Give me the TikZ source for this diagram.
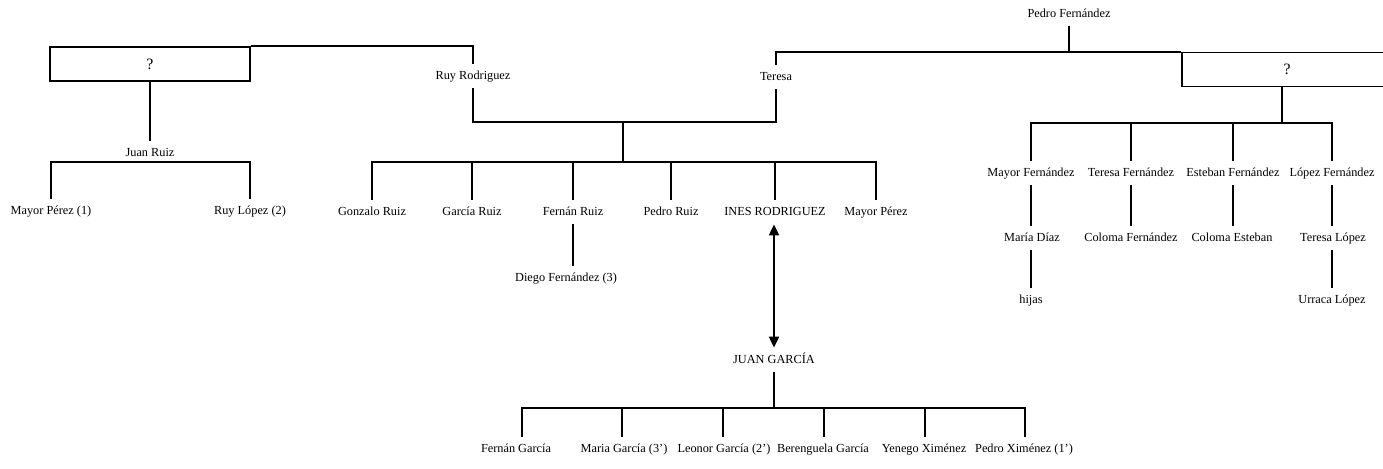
\documentclass[tikz,border=0pt]{standalone}
\usepackage{fontspec}
\setmainfont{Liberation Serif}
\usetikzlibrary{arrows.meta}
\begin{document}
\begin{tikzpicture}[x=0.02cm,y=-0.02cm,
  lab/.style={font=\fontsize{7}{8}\selectfont, inner xsep=1pt, inner ysep=3.6pt, text height=5pt, text depth=1.5pt},
  ln/.style={line width=1.1pt},
  qbox/.style={draw, line width=1.1pt, font=\fontsize{9}{10}\selectfont, inner sep=0pt, minimum height=0.68cm},
  >={Triangle[length=0.22cm,width=0.2cm]}]
\useasboundingbox (0,0) rectangle (1383,468);
% boxes with unknown spouses
\node[qbox, minimum width=4cm] (lbox) at (150,64) {?};
\node[qbox, minimum width=4.2cm] (rbox) at (1287,69.5) {?};
% top generation
\node[lab] (ruy) at (473,76) {Ruy Rodriguez};
\node[lab] (teresa) at (776,77) {Teresa};
\node[lab] (pedro) at (1069,14) {Pedro Fernández};
\coordinate (m2) at (1069,52);
\draw[ln] (lbox.north east) -| (ruy.north);
\draw[ln] (teresa.north) |- (rbox.north west);
\draw[ln] (pedro.south) -- (m2);
% left branch
\node[lab] (juanruiz) at (150,153) {Juan Ruiz};
\node[lab] (mayorp1) at (51,211) {Mayor Pérez (1)};
\node[lab] (ruylopez) at (250,211) {Ruy López (2)};
\coordinate (b0) at (150,162);
\draw[ln] (lbox.south) -- (juanruiz.north);
\draw[ln] (b0) -| (mayorp1.north);
\draw[ln] (b0) -| (ruylopez.north);
% middle branch
\coordinate (m1) at (623,122);
\coordinate (b1) at (623,162);
\draw[ln] (ruy.south) |- (m1) -| (teresa.south);
\node[lab] (gonzalo) at (372,212) {Gonzalo Ruiz};
\node[lab] (garcia) at (472,212) {García Ruiz};
\node[lab] (fernan) at (573,212) {Fernán Ruiz};
\node[lab] (pedroruiz) at (671,212) {Pedro Ruiz};
\node[lab] (ines) at (775,212) {INES RODRIGUEZ};
\node[lab] (mayorp) at (876,212) {Mayor Pérez};
\foreach \c in {gonzalo,garcia,fernan,pedroruiz,ines,mayorp}
  \draw[ln] (m1) -- (b1) -| (\c.north);
\node[lab] (diego) at (566,278) {Diego Fernández (3)};
\draw[ln] (fernan.south) -- (diego.north -| fernan.south);
% Ines - Juan Garcia
\node[lab] (juang) at (774,360) {JUAN GARCÍA};
\draw[ln, <->] (ines.south -| juang.north) -- (juang.north);
\coordinate (b3) at (774,408);
\node[lab] (fgarcia) at (516,449) {Fernán García};
\node[lab] (mgarcia) at (624,449) {Maria García (3')};
\node[lab] (lgarcia) at (724,449) {Leonor García (2')};
\node[lab] (bgarcia) at (823,449) {Berenguela García};
\node[lab] (yximenez) at (924,449) {Yenego Ximénez};
\node[lab] (pximenez) at (1024,449) {Pedro Ximénez (1')};
\draw[ln] (juang.south) -- (b3);
\foreach \c/\x in {fgarcia/522,mgarcia/622,lgarcia/723,bgarcia/824,yximenez/925,pximenez/1025}
  \draw[ln] (b3) -| (\x,408) -- (\c.north -| \x,408);
% right branch
\coordinate (b2) at (1282,123);
\node[lab] (mayorf) at (1031,173) {Mayor Fernández};
\node[lab] (teresaf) at (1131,173) {Teresa Fernández};
\node[lab] (estebanf) at (1233,173) {Esteban Fernández};
\node[lab] (lopezf) at (1332,173) {López Fernández};
\draw[ln] (rbox.south -| b2) -- (b2);
\foreach \c in {mayorf,teresaf,estebanf,lopezf}
  \draw[ln] (b2) -| (\c.north);
\node[lab] (mariad) at (1032,238) {María Díaz};
\node[lab] (colomaf) at (1131,238) {Coloma Fernández};
\node[lab] (colomae) at (1232,238) {Coloma Esteban};
\node[lab] (teresal) at (1333,238) {Teresa López};
\draw[ln] (mayorf.south) -- (mayorf.south |- mariad.north);
\draw[ln] (teresaf.south) -- (teresaf.south |- colomaf.north);
\draw[ln] (estebanf.south) -- (estebanf.south |- colomae.north);
\draw[ln] (lopezf.south) -- (lopezf.south |- teresal.north);
\node[lab] (hijas) at (1031,300) {hijas};
\node[lab] (urraca) at (1332,300) {Urraca López};
\draw[ln] (mariad.south -| hijas.north) -- (hijas.north);
\draw[ln] (teresal.south -| urraca.north) -- (urraca.north);
\end{tikzpicture}
\end{document}
